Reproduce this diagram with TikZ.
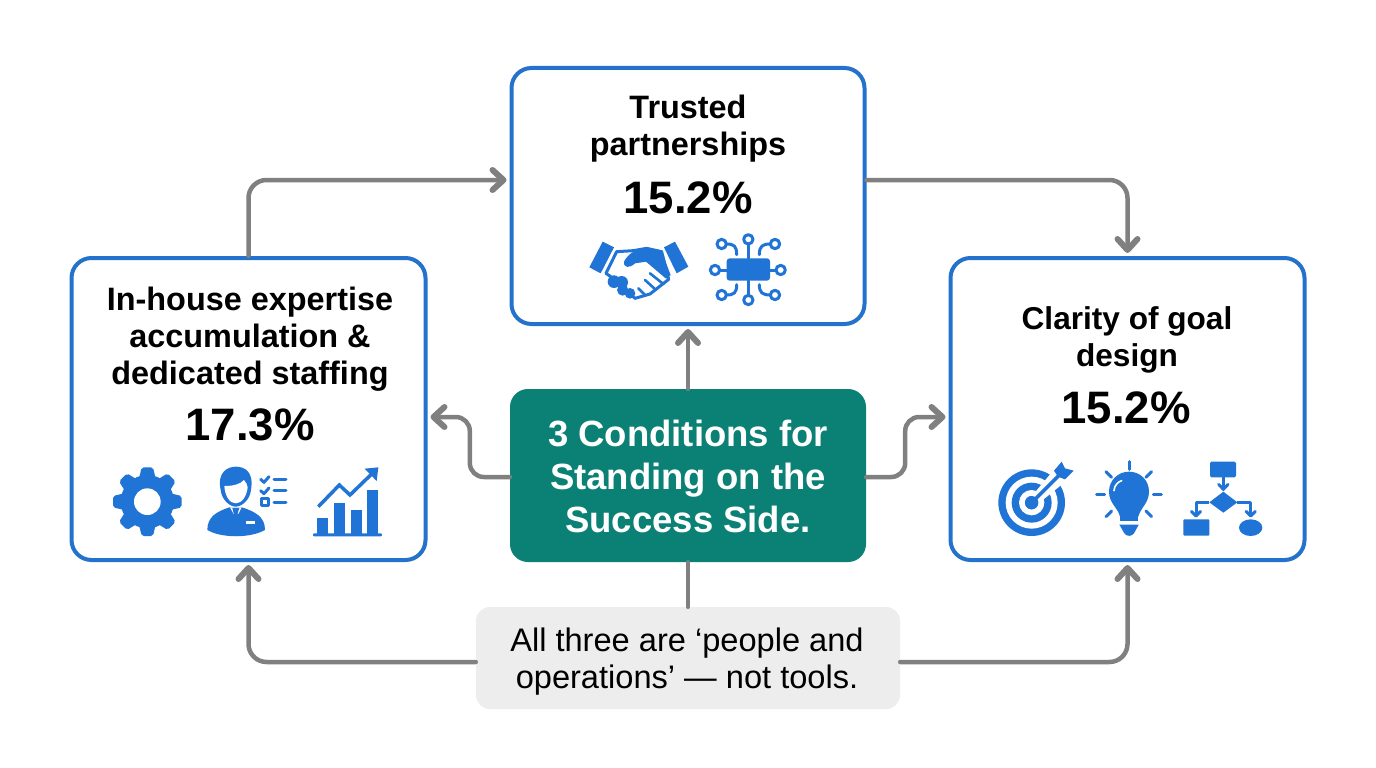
\documentclass[tikz,border=0pt]{standalone}
\usepackage{fontspec}
\setmainfont{Liberation Sans}
\usetikzlibrary{arrows.meta}
\definecolor{boxblue}{HTML}{2472CC}
\definecolor{iconblue}{HTML}{1F74D6}
\definecolor{teal1}{HTML}{0B8074}
\definecolor{conn}{HTML}{808080}
\definecolor{notebg}{HTML}{EDEDED}
\tikzset{
  card/.style={draw=boxblue,line width=4pt,fill=white,rounded corners=20pt,inner sep=0pt,minimum width=354pt},
  title/.style={font=\fontsize{32.4}{37}\selectfont\bfseries,align=center,text=black},
  pct/.style={font=\fontsize{45.5}{50}\selectfont\bfseries,text=black},
  conn/.style={draw=conn,line width=4.5pt,rounded corners=18pt,line cap=round},
  arr/.style={conn,-{Straight Barb[length=11pt,width=20pt,line width=6pt,round]}},
  ic/.style={fill=iconblue,draw=none},
  il/.style={draw=iconblue,line width=3pt,line cap=round,line join=round},
  zoomed/.style={scale=0.33333}
}
\begin{document}
\begin{tikzpicture}[x=1pt,y=-1pt]
\useasboundingbox (0,0) rectangle (1376,768);
\fill[white] (0,0) rectangle (1376,768);
\node[card,minimum width=353pt,minimum height=256pt] (top) at (688,196) {};
\node[card,minimum height=302pt] (left) at (248.5,409) {};
\node[card,minimum height=302pt] (right) at (1127.5,409) {};
\node[fill=teal1,rounded corners=18pt,minimum width=356pt,minimum height=173pt,inner sep=0pt] (center) at (688,475.5) {};
\node[fill=notebg,rounded corners=14pt,minimum width=424pt,minimum height=102pt,inner sep=0pt] (note) at (688,658) {};
\coordinate (topin) at ([yshift=16pt]top.west);
\coordinate (topout) at ([yshift=16pt]top.east);
\coordinate (leftin) at ([yshift=-8pt]left.east);
\coordinate (rightin) at ([yshift=-8pt]right.west);
\coordinate (cl) at ([yshift=-1.5pt]center.west);
\coordinate (cr) at ([yshift=-1.5pt]center.east);
\coordinate (nl) at ([yshift=-4pt]note.west);
\coordinate (nr) at ([yshift=-4pt]note.east);
\draw[arr] (left.north) -- (left.north |- topin) -- ([xshift=-3pt]topin);
\draw[arr] (topout) -- (right.north |- topout) -- ([yshift=3pt]right.north);
\draw[arr] (center.north) -- ([yshift=-3pt]top.south);
\draw[arr,rounded corners=14pt] (cl) -- ++(-40,0) -- ++(0,-60) -- ([xshift=3pt]leftin);
\draw[arr,rounded corners=14pt] (cr) -- ++(39,0) -- ++(0,-60) -- ([xshift=-3pt]rightin);
\draw[conn] (center.south) -- (note.north);
\draw[arr] (nl) -- (left.south |- nl) -- ([yshift=-3pt]left.south);
\draw[arr] (nr) -- (right.south |- nr) -- ([yshift=-3pt]right.south);
% texts
\node[title] (t1) at (688,129) {Trusted\\partnerships};
\node[pct] (p1) at (688,198) {15.2\%};
\node[title] (t2) at (250,339) {In-house expertise\\accumulation \&\\dedicated staffing};
\node[pct] (p2) at (250,425) {17.3\%};
\node[title,font=\fontsize{31.6}{37}\selectfont\bfseries] (t3) at (1127,340) {Clarity of goal\\design};
\node[pct] (p3) at (1126,408) {15.2\%};
\node[font=\fontsize{36.5}{43}\selectfont\bfseries,align=center,text=white] (ct) at (688,476) {3 Conditions for\\Standing on the\\Success Side.};
\node[font=\fontsize{32.6}{37}\selectfont,align=center,text=black] (nt) at (687,662) {All three are ‘people and\\operations’ — not tools.};
% --- left icons
\begin{scope}[shift={(70,450)},zoomed]
 % gear
 \fill[iconblue] (232,155) circle (80);
 \foreach \a in {0,45,...,315}{
  \fill[iconblue,rotate around={\a:(232,155)},rounded corners=2pt] (215,52) -- (249,52) -- (258,90) -- (206,90) -- cycle;
 }
 \fill[white] (232,155) circle (40);
 % person
 \fill[iconblue] (412,240) .. controls (412,200) and (440,185) .. (478,172) -- (516,172) .. controls (555,185) and (585,200) .. (585,240) .. controls (540,265) and (455,265) .. (412,240) -- cycle;
 \fill[white] (480,172) -- (515,172) -- (498,205) -- cycle;
 \fill[iconblue] (487,174) -- (508,174) -- (503,190) -- (508,222) -- (497,235) -- (486,222) -- (491,190) -- cycle;
 \fill[white] (528,214) rectangle (556,222);
 \fill[iconblue] (452,120) .. controls (440,65) and (475,50) .. (497,50) .. controls (525,50) and (552,65) .. (543,120) .. controls (540,150) and (515,170) .. (497,170) .. controls (480,170) and (455,150) .. (452,120) -- cycle;
 \fill[white] (463,108) .. controls (490,108) and (510,103) .. (522,90) .. controls (528,98) and (532,103) .. (533,112) .. controls (530,140) and (515,160) .. (497,160) .. controls (480,160) and (465,140) .. (463,108) -- cycle;
 \draw[il] (572,88) -- (582,97) -- (597,80);
 \draw[il] (572,122) -- (582,131) -- (597,114);
 \draw[il] (573,146) rectangle (594,165);
 \draw[il] (612,88) -- (648,88);
 \draw[il] (612,122) -- (648,122);
 \draw[il] (612,156) -- (648,156);
 % chart
 \fill[iconblue,rounded corners=1pt] (729,250) rectangle (936,259);
 \fill[iconblue] (740,204) rectangle (775,252);
 \fill[iconblue] (792,159) rectangle (825,252);
 \fill[iconblue] (842,180) rectangle (875,252);
 \fill[iconblue] (892,120) rectangle (925,252);
 \draw[il,line width=3.5pt,line cap=butt,line join=miter] (745,170) -- (808,105) -- (840,135) -- (905,72);
 \fill[iconblue] (884,56) -- (925,52) -- (920,93) -- cycle;
\end{scope}
% --- top icons
\begin{scope}[shift={(570,220)},zoomed]
 % handshake
 \fill[iconblue] (98,65) -- (132,82) -- (92,160) -- (58,142) -- cycle;
 \fill[iconblue] (282,82) -- (315,65) -- (355,140) -- (320,160) -- cycle;
 \draw[il,fill=white,line width=3pt] (140,95) -- (108,160) -- (125,172) -- (195,235) -- (240,222) -- (296,178) -- (275,95) -- (230,85) -- (190,92) -- cycle;
 \fill[iconblue] (162,125) .. controls (175,100) and (200,85) .. (230,85) -- (275,95) -- (302,165) -- (288,176) -- (228,125) -- (195,130) .. controls (180,145) and (160,145) .. (162,125) -- cycle;
 \fill[iconblue] (132,185) circle (19);
 \fill[iconblue] (155,187) circle (19);
 \fill[iconblue] (158,210) circle (17);
 \fill[iconblue] (180,220) circle (16);
 \draw[il,line width=2.6pt] (205,205) -- (225,225);
 \draw[il,line width=2.6pt] (225,180) -- (258,210);
 \draw[il,line width=2.6pt] (240,160) -- (280,192);
 % chip
 \fill[iconblue,rounded corners=3pt] (470,115) rectangle (600,182);
 \foreach \x/\y in {455/72,535/58,615/72,435/150,632/150,455/225,535/240,615/225}{
  \draw[il] (\x,\y) circle (14);
 }
 \draw[il] (535,72) -- (535,115);
 \draw[il] (535,182) -- (535,226);
 \draw[il] (449,150) -- (470,150);
 \draw[il] (600,150) -- (618,150);
 \draw[il] (469,72) .. controls (492,72) and (500,78) .. (500,104);
 \draw[il] (601,72) .. controls (578,72) and (568,78) .. (568,104);
 \draw[il] (469,225) .. controls (492,225) and (500,219) .. (500,194);
 \draw[il] (601,225) .. controls (578,225) and (568,219) .. (568,194);
\end{scope}
% --- right icons
\begin{scope}[shift={(980,450)},zoomed]
 % target
 \fill[iconblue] (155,158) circle (100);
 \fill[white] (155,158) circle (78);
 \fill[iconblue] (155,158) circle (60);
 \fill[white] (155,158) circle (38);
 \fill[iconblue] (155,158) circle (20);
 \fill[white] (216,66) -- (245,30) -- (290,60) -- (250,100) -- (170,165) -- (150,145) -- cycle;
 \fill[iconblue] (155,158) circle (20);
 \draw[iconblue,line width=3.4pt] (155,158) -- (240,73);
 \fill[iconblue] (222,62) -- (245,35) -- (255,55) -- (281,62) -- (255,88) -- (234,80) -- cycle;
 % bulb
 \fill[iconblue] (420,200) .. controls (415,175) and (387,160) .. (387,125) .. controls (387,90) and (415,65) .. (447,65) .. controls (480,65) and (507,90) .. (507,125) .. controls (507,160) and (480,175) .. (475,200) -- cycle;
 \fill[iconblue] (420,198) rectangle (475,212);
 \fill[iconblue] (418,224) -- (476,224) -- (462,250) .. controls (455,260) and (440,260) .. (433,250) -- cycle;
 \draw[white,line width=1.6pt,line cap=round] (402,122) .. controls (403,105) and (415,95) .. (425,92);
 \foreach \a/\b/\c/\d in {447/35/447/58,378/65/395/82,515/65/498/82,350/132/374/132,520/132/544/132,378/200/395/183,515/200/498/183}{
  \draw[il] (\a,\b) -- (\c,\d);
 }
 % flow
 \fill[iconblue,rounded corners=1.5pt] (690,35) rectangle (768,82);
 \fill[iconblue] (730,125) -- (772,157) -- (730,188) -- (688,157) -- cycle;
 \fill[iconblue,rounded corners=1pt] (610,208) rectangle (688,257);
 \fill[iconblue] (812,233) ellipse (35 and 25);
 \draw[il] (730,82) -- (730,118);
 \draw[il] (716,103) -- (730,118) -- (744,103);
 \draw[il,line cap=butt] (688,157) -- (648,157) -- (648,198);
 \draw[il] (634,184) -- (648,198) -- (662,184);
 \draw[il,line cap=butt] (772,157) -- (812,157) -- (812,198);
 \draw[il] (798,184) -- (812,198) -- (826,184);
\end{scope}
\end{tikzpicture}
\end{document}
